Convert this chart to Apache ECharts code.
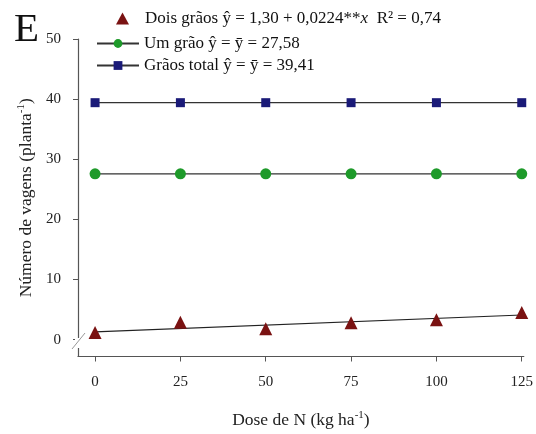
<!DOCTYPE html>
<html>
<head>
<meta charset="utf-8">
<script src="https://cdn.jsdelivr.net/npm/echarts@6/dist/echarts.min.js"></script>
<style>
html,body{margin:0;padding:0;background:#fff;}
#c{width:536px;height:434px;}
</style>
</head>
<body>
<div id="c"></div>
<script>
var doses = [0, 25, 50, 75, 100, 125];
var doisGraos = [1.2, 2.9, 1.8, 2.8, 3.3, 4.5];
var umGrao = [27.58, 27.58, 27.58, 27.58, 27.58, 27.58];
var graosTotal = [39.41, 39.41, 39.41, 39.41, 39.41, 39.41];
var regX = [0, 125];
var regY = [1.30, 4.10];
var yTicks = [0, 10, 20, 30, 40, 50];
var xTicks = [0, 25, 50, 75, 100, 125];

function pairs(xs, ys) { return xs.map(function (x, i) { return [x, ys[i]]; }); }

var FONT = 'Liberation Serif';
var chart = echarts.init(document.getElementById('c'), null, { renderer: 'canvas' });
var legendText = {
  'Dois grãos': '{p|}{a|Dois grãos }{a|ŷ = 1,30 + 0,0224**}{i|x}{a|  R² = 0,74}',
  'Um grão': '{a|Um grão }{a|ŷ = ȳ = 27,58}',
  'Grãos total': '{a|Grãos total }{a|ŷ = ȳ = 39,41}'
};
var legTextStyle = {
  fontFamily: FONT, fontSize: 17, color: '#111',
  rich: {
    p: { width: 11 },
    a: { fontFamily: FONT, fontSize: 17, color: '#111' },
    i: { fontFamily: FONT, fontSize: 17, color: '#111', fontStyle: 'italic' }
  }
};
chart.setOption({
  animation: false,
  backgroundColor: '#fff',
  grid: { left: 78, top: 39, right: 12, bottom: 77, containLabel: false },
  graphic: [
    { type: 'text', left: 14, top: 10, style: { text: 'E', font: '41px "Liberation Serif"', fill: '#111' } },
    { type: 'rect', z: 100, shape: { x: 75, y: 338, width: 6, height: 10 }, style: { fill: '#fff' } },
    { type: 'line', z: 101, shape: { x1: 72, y1: 349, x2: 85, y2: 333 }, style: { stroke: '#999', lineWidth: 1 } }
  ],
  legend: [
    {
      data: ['Dois grãos'],
      left: 116, top: 10, padding: 0,
      itemWidth: 13, itemHeight: 12, itemGap: 4,
      formatter: function (n) { return legendText[n]; },
      textStyle: legTextStyle
    },
    {
      data: ['Um grão', 'Grãos total'],
      orient: 'vertical',
      left: 96, top: 35, padding: 0,
      itemWidth: 42, itemHeight: 11, itemGap: 5,
      formatter: function (n) { return legendText[n]; },
      textStyle: legTextStyle
    }
  ],
  xAxis: {
    type: 'value',
    min: -5,
    max: 125.6,
    name: 'Dose de N (kg ha{sup|-1})',
    nameLocation: 'middle',
    nameGap: 53,
    nameTextStyle: {
      fontFamily: FONT, fontSize: 17.5, color: '#222',
      rich: { sup: { fontFamily: FONT, fontSize: 11, color: '#222', padding: [0, 0, 10, 0] } }
    },
    splitLine: { show: false },
    axisLine: { show: true, onZero: false, lineStyle: { color: '#555', width: 1.2 } },
    axisTick: { show: true, customValues: xTicks, length: 5, inside: false, lineStyle: { color: '#555' } },
    axisLabel: { customValues: xTicks, margin: 18, fontFamily: FONT, fontSize: 15, color: '#222' }
  },
  yAxis: {
    type: 'value',
    min: -2.8,
    max: 50,
    name: 'Número de vagens (planta{sup|-1})',
    nameLocation: 'middle',
    nameGap: 40,
    nameTextStyle: {
      fontFamily: FONT, fontSize: 17.5, color: '#222',
      rich: { sup: { fontFamily: FONT, fontSize: 11, color: '#222', padding: [0, 0, 10, 0] } }
    },
    splitLine: { show: false },
    axisLine: { show: true, onZero: false, lineStyle: { color: '#555', width: 1.2 } },
    axisTick: { show: true, customValues: yTicks, length: 5, lineStyle: { color: '#555' } },
    axisLabel: { customValues: yTicks, margin: 17, fontFamily: FONT, fontSize: 15, color: '#222' }
  },
  series: [
    {
      name: 'Dois grãos', type: 'scatter', data: pairs(doses, doisGraos),
      symbol: 'triangle', symbolSize: 13, itemStyle: { color: '#7a1212', opacity: 1 }, z: 5
    },
    {
      name: 'Dois grãos (reg)', type: 'line', data: pairs(regX, regY),
      showSymbol: false, symbol: 'none', lineStyle: { color: '#222', width: 1.2 }, z: 3
    },
    {
      name: 'Um grão', type: 'line', data: pairs(doses, umGrao),
      symbol: 'circle', symbolSize: 11, showSymbol: true,
      itemStyle: { color: '#1e9a2a' }, lineStyle: { color: '#333', width: 1.2 }
    },
    {
      name: 'Grãos total', type: 'line', data: pairs(doses, graosTotal),
      symbol: 'rect', symbolSize: 9, showSymbol: true,
      itemStyle: { color: '#1a1a78' }, lineStyle: { color: '#333', width: 1.2 }
    }
  ]
});
</script>
</body>
</html>
